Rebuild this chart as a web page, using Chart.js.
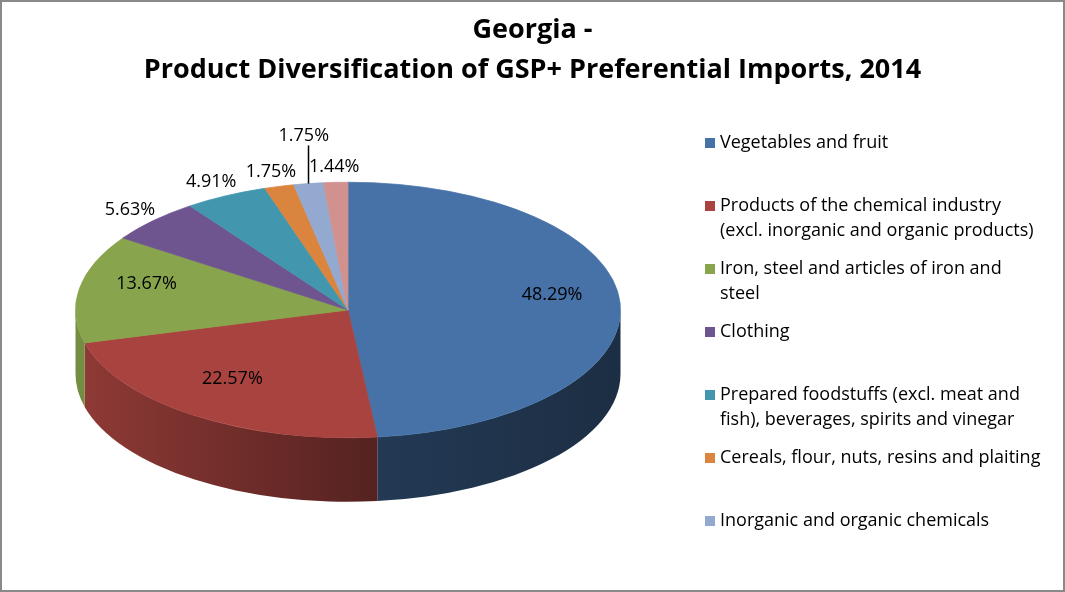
<!DOCTYPE html>
<html>
<head>
<meta charset="utf-8">
<script src="https://cdn.jsdelivr.net/npm/chart.js@4.4.1/dist/chart.umd.min.js"></script>
<style>
  html, body { margin: 0; padding: 0; background: #fff; }
</style>
</head>
<body>
<canvas id="pieChart" width="1065" height="592"></canvas>
<script>
const titleLines = ["Georgia -", "Product Diversification of GSP+ Preferential Imports, 2014"];

const categories = [
  "Vegetables and fruit",
  "Products of the chemical industry (excl. inorganic and organic products)",
  "Iron, steel and articles of iron and steel",
  "Clothing",
  "Prepared foodstuffs (excl. meat and fish), beverages, spirits and vinegar",
  "Cereals, flour, nuts, resins and plaiting",
  "Inorganic and organic chemicals",
  "Other products",
];

// share of GSP+ preferential imports, %
const shares = [48.29, 22.57, 13.67, 5.63, 4.91, 1.75, 1.75, 1.44];

const colors = ["#4672a8", "#a8433f", "#88a54d", "#6f5590", "#4297ae", "#db843d", "#93a9cf", "#d1918f"];

const FONT = "'Open Sans', Lato, sans-serif";
const TILT = 128 / 273;   // vertical squash of the pie top
const DEPTH = 64;         // thickness of the pie, px
const PIE_CY = 310;       // screen y of the pie centre

function shade(hex, f) {
  const n = parseInt(hex.slice(1), 16);
  const r = Math.round(((n >> 16) & 255) * f);
  const g = Math.round(((n >> 8) & 255) * f);
  const b = Math.round((n & 255) * f);
  return `rgb(${r},${g},${b})`;
}

function pieGeometry(chart) {
  const arcs = chart.getDatasetMeta(0).data;
  const p = arcs[0].getProps(["x", "y", "outerRadius"], true);
  return { arcs, cx: p.x, cy: p.y, r: p.outerRadius };
}

function toScreen(g, angle, dist) {
  return {
    x: g.cx + Math.cos(angle) * dist,
    y: PIE_CY + Math.sin(angle) * dist * TILT,
  };
}

function wrapText(ctx, text, maxWidth) {
  const words = text.split(" ");
  const lines = [];
  let line = "";
  words.forEach((w) => {
    const test = line ? line + " " + w : w;
    if (ctx.measureText(test).width > maxWidth && line) {
      lines.push(line);
      line = w;
    } else {
      line = test;
    }
  });
  if (line) lines.push(line);
  return lines;
}

const pie3d = {
  id: "pie3d",
  beforeDatasetsDraw(chart) {
    const ctx = chart.ctx;
    const g = pieGeometry(chart);
    ctx.save();
    ctx.translate(g.cx, PIE_CY);
    ctx.scale(1, TILT);
    ctx.translate(-g.cx, -g.cy);

    // front wall of the cylinder, lit from the left
    const d = DEPTH / TILT;
    g.arcs.forEach((arc, i) => {
      const { startAngle, endAngle } = arc.getProps(["startAngle", "endAngle"], true);
      const a1 = Math.max(startAngle, 0);
      const a2 = Math.min(endAngle, Math.PI);
      if (a2 <= a1) return;
      const grad = ctx.createLinearGradient(g.cx - g.r, 0, g.cx + g.r, 0);
      grad.addColorStop(0, shade(colors[i], 0.86));
      grad.addColorStop(0.56, shade(colors[i], 0.5));
      grad.addColorStop(1, shade(colors[i], 0.4));
      ctx.beginPath();
      ctx.arc(g.cx, g.cy, g.r, a1, a2);
      ctx.arc(g.cx, g.cy + d, g.r, a2, a1, true);
      ctx.closePath();
      ctx.fillStyle = grad;
      ctx.fill();
    });
  },
  afterDatasetsDraw(chart) {
    chart.ctx.restore();
  },
  afterDraw(chart) {
    const ctx = chart.ctx;
    const g = pieGeometry(chart);

    // title
    ctx.save();
    ctx.fillStyle = "#000";
    ctx.textAlign = "center";
    ctx.textBaseline = "middle";
    ctx.font = `bold 27px ${FONT}`;
    titleLines.forEach((t, i) => ctx.fillText(t, chart.width / 2, 30 + i * 40));

    // data labels: big slices inside, small ones outside
    ctx.font = `18px ${FONT}`;
    const placed = [];
    g.arcs.forEach((arc, i) => {
      const { startAngle, endAngle } = arc.getProps(["startAngle", "endAngle"], true);
      const mid = (startAngle + endAngle) / 2;
      const text = shares[i].toFixed(2) + "%";
      const w = ctx.measureText(text).width;
      if (shares[i] >= 10) {
        const p = toScreen(g, mid, g.r * 0.75);
        ctx.fillText(text, p.x, p.y - 10);
        return;
      }
      const p = toScreen(g, mid, g.r * 1.12);
      let box = { x1: p.x - w / 2 - 2, x2: p.x + w / 2 + 2, y1: p.y - 10, y2: p.y + 10 };
      const hit = placed.some((b) => b.x1 < box.x2 && box.x1 < b.x2 && b.y1 < box.y2 && box.y1 < b.y2);
      if (hit) {
        const lift = 33;
        box = { ...box, y1: box.y1 - lift, y2: box.y2 - lift };
        const edge = toScreen(g, mid, g.r);
        ctx.beginPath();
        ctx.moveTo(edge.x, box.y2);
        ctx.lineTo(edge.x, edge.y);
        ctx.strokeStyle = "#000";
        ctx.lineWidth = 1.5;
        ctx.stroke();
        ctx.fillText(text, p.x, p.y - lift);
      } else {
        ctx.fillText(text, p.x, p.y);
      }
      placed.push(box);
    });

    // legend (entries that do not fit are cut off)
    ctx.textAlign = "left";
    ctx.font = `18px ${FONT}`;
    const lx = 705, ly = 143, slot = 63, lineH = 25;
    categories.forEach((c, i) => {
      const y = ly + i * slot;
      if (y > chart.height - 40) return;
      ctx.fillStyle = colors[i];
      ctx.fillRect(lx, y - 5, 10, 10);
      ctx.fillStyle = "#000";
      wrapText(ctx, c, 323).forEach((line, k) => ctx.fillText(line, lx + 15, y + k * lineH));
    });

    // outer frame
    ctx.strokeStyle = "#898989";
    ctx.lineWidth = 2;
    ctx.strokeRect(1, 1, chart.width - 2, chart.height - 2);
    ctx.restore();
  },
};

const ctx = document.getElementById("pieChart").getContext("2d");

const config = {
  type: "pie",
  data: {
    labels: categories,
    datasets: [
      {
        data: shares,
        backgroundColor: colors,
        borderColor: colors,
        borderWidth: 1,
        clip: false,
      },
    ],
  },
  options: {
    responsive: false,
    animation: false,
    devicePixelRatio: 1,
    layout: {
      padding: { left: 75, right: 444, top: 20, bottom: 26 },
    },
    plugins: {
      legend: { display: false },
      title: { display: false },
      tooltip: { enabled: false },
    },
  },
  plugins: [pie3d],
};

const pieChart = new Chart(ctx, config);
</script>
</body>
</html>
